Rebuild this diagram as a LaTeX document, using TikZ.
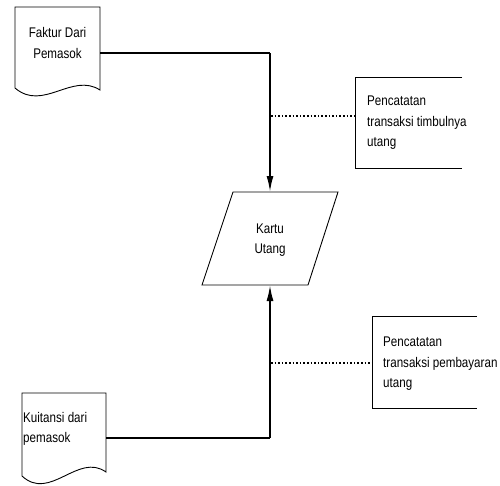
\documentclass[tikz,border=0pt]{standalone}
\usepackage{fontspec}
\setmainfont{Liberation Sans}[FakeStretch=0.83]
\usetikzlibrary{arrows.meta}
\begin{document}
\begin{tikzpicture}[x=1pt,y=-1pt,
  txt/.style={font=\fontsize{14}{20.5}\selectfont, inner sep=0pt},
  outline/.style={draw=black, line width=0.9pt},
  flow/.style={draw=black, line width=1.8pt},
  note/.style={draw=black, line width=1.6pt, dotted},
  tip/.style={-{Latex[length=16pt,width=7pt]}}]
\useasboundingbox (0,0) rectangle (500,485);
% document 1
\draw[outline] (15,88) -- (15,7) -- (100,7) -- (100,90)
  .. controls (72,72) and (43,112) .. (15,88);
\node[txt, align=center] (faktur) at (57.5,43) {Faktur Dari\\Pemasok};
\coordinate (d1) at (100,53);
% document 2
\draw[outline] (22,476) -- (22,393) -- (106,393) -- (106,472)
  .. controls (78,452) and (50,502) .. (22,476);
\node[txt, align=left, anchor=west] (kuitansi) at (23,429) {Kuitansi dari\\pemasok};
\coordinate (d2) at (106,438);
% parallelogram
\draw[outline] (233,192) -- (338,192) -- (308,285) -- (202,285) -- cycle;
\node[txt, align=center] (kartu) at (270,240) {Kartu\\Utang};
\coordinate (kt) at (270,192);
\coordinate (kb) at (270,285);
% corners
\coordinate (c1) at (270,53);
\coordinate (c2) at (270,438);
\draw[flow] (d1) -- (c1);
\draw[flow, tip] (c1) -- (kt);
\draw[flow] (d2) -- (c2);
\draw[flow, tip] (c2) -- (kb);
% annotation 1
\draw[outline] (462,77) -- (355,77) -- (355,168) -- (462,168);
\node[txt, align=left, anchor=west] (ann1) at (367,123) {Pencatatan\\transaksi timbulnya\\utang};
\coordinate (a1) at (355,116);
\coordinate (v1) at (271,116);
\draw[note] (v1) -- (a1);
% annotation 2
\draw[outline] (477,316) -- (372,316) -- (372,408) -- (477,408);
\node[txt, align=left, anchor=west] (ann2) at (383,364) {Pencatatan\\transaksi pembayaran\\utang};
\coordinate (a2) at (372,363);
\coordinate (v2) at (271,363);
\draw[note] (v2) -- (a2);
\end{tikzpicture}
\end{document}
